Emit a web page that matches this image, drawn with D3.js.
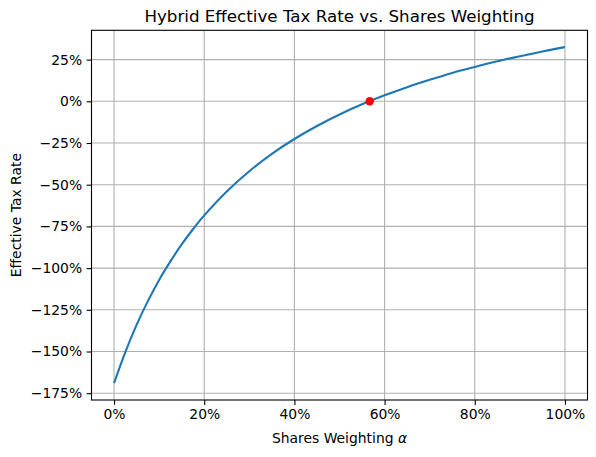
<!DOCTYPE html>
<html>
<head>
<meta charset="utf-8">
<script src="https://cdn.jsdelivr.net/npm/d3@7"></script>
<style>
  body { margin: 0; background: #fff; }
  svg { display: block; font-family: "DejaVu Sans", sans-serif; }
</style>
</head>
<body>
<div id="chart"></div>
<script>
// shares weighting alpha (x) and effective tax rate (y)
const alphas = [0, 0.025, 0.05, 0.075, 0.1, 0.125, 0.15, 0.175, 0.2, 0.25, 0.3, 0.35, 0.4, 0.45,
  0.5, 0.55, 0.6, 0.65, 0.7, 0.75, 0.8, 0.85, 0.9, 0.95, 1];
const rates = [-1.69, -1.503, -1.34, -1.198, -1.071, -0.96, -0.858, -0.767, -0.684, -0.54,
  -0.419, -0.315, -0.226, -0.148, -0.079, -0.018, 0.036, 0.085, 0.129, 0.17, 0.206, 0.24,
  0.27, 0.299, 0.325];
const breakEven = [{ alpha: 0.567, rate: 0 }];

const xTicks = [0, 0.2, 0.4, 0.6, 0.8, 1];
const yTicks = [0.25, 0, -0.25, -0.5, -0.75, -1, -1.25, -1.5, -1.75];

const width = 596,
  height = 457;
const margin = { left: 91.5, top: 30.3, right: 8.5, bottom: 57 };
const iw = width - margin.left - margin.right,
  ih = height - margin.top - margin.bottom;

const points = alphas.map((a, i) => ({ alpha: a, rate: rates[i] }));

// matplotlib style 5% margins
const xExt = d3.extent(alphas),
  yExt = d3.extent(rates);
const xPad = (xExt[1] - xExt[0]) * 0.05,
  yPad = (yExt[1] - yExt[0]) * 0.05;

const x = d3
  .scaleLinear()
  .domain([xExt[0] - xPad, xExt[1] + xPad])
  .range([0, iw]);
const y = d3
  .scaleLinear()
  .domain([yExt[0] - yPad, yExt[1] + yPad])
  .range([ih, 0]);

const pct = d3.format(".0%");

const svg = d3
  .select("#chart")
  .append("svg")
  .attr("width", width)
  .attr("height", height)
  .attr("viewBox", [0, 0, width, height]);

const g = svg.append("g").attr("transform", `translate(${margin.left}, ${margin.top})`);

// grid
g.append("g")
  .selectAll("line")
  .data(xTicks)
  .join("line")
  .attr("x1", (d) => x(d))
  .attr("x2", (d) => x(d))
  .attr("y1", 0)
  .attr("y2", ih)
  .attr("stroke", "#b0b0b0")
  .attr("stroke-width", 1.1);

g.append("g")
  .selectAll("line")
  .data(yTicks)
  .join("line")
  .attr("x1", 0)
  .attr("x2", iw)
  .attr("y1", (d) => y(d))
  .attr("y2", (d) => y(d))
  .attr("stroke", "#b0b0b0")
  .attr("stroke-width", 1.1);

// axes
const xAxis = g
  .append("g")
  .attr("transform", `translate(0, ${ih})`)
  .call(d3.axisBottom(x).tickValues(xTicks).tickFormat(pct).tickSize(4.9).tickPadding(4.5));

const yAxis = g
  .append("g")
  .call(d3.axisLeft(y).tickValues(yTicks).tickFormat(pct).tickSize(4.9).tickPadding(4.5));

[xAxis, yAxis].forEach((a) => {
  a.select(".domain").remove();
  a.selectAll(".tick line").attr("stroke", "#000").attr("stroke-width", 1.1);
  a.selectAll(".tick text")
    .attr("fill", "#000")
    .style("font-size", "13.9px")
    .style("font-family", "DejaVu Sans");
});

// curve
const line = d3
  .line()
  .x((d) => x(d.alpha))
  .y((d) => y(d.rate))
  .curve(d3.curveCatmullRom.alpha(0.5));

g.append("path")
  .datum(points)
  .attr("d", line)
  .attr("fill", "none")
  .attr("stroke", "#1f77b4")
  .attr("stroke-width", 2.1);

g.selectAll(".point")
  .data(breakEven)
  .join("circle")
  .attr("class", "point")
  .attr("cx", (d) => x(d.alpha))
  .attr("cy", (d) => y(d.rate))
  .attr("r", 4.2)
  .attr("fill", "red");

// frame
g.append("rect")
  .attr("width", iw)
  .attr("height", ih)
  .attr("fill", "none")
  .attr("stroke", "#000")
  .attr("stroke-width", 1.1);

// labels
svg.append("text")
  .attr("x", margin.left + iw / 2)
  .attr("y", 22.3)
  .attr("text-anchor", "middle")
  .style("font-size", "16.7px")
  .text("Hybrid Effective Tax Rate vs. Shares Weighting");

const xl = svg.append("text")
  .attr("x", margin.left + iw / 2)
  .attr("y", 443)
  .attr("text-anchor", "middle")
  .style("font-size", "13.9px");
xl.append("tspan").text("Shares Weighting ");
xl.append("tspan").style("font-style", "italic").text("α");

svg.append("text")
  .attr("transform", `translate(20.5, ${margin.top + ih / 2}) rotate(-90)`)
  .attr("text-anchor", "middle")
  .style("font-size", "13.9px")
  .text("Effective Tax Rate");
</script>
</body>
</html>
